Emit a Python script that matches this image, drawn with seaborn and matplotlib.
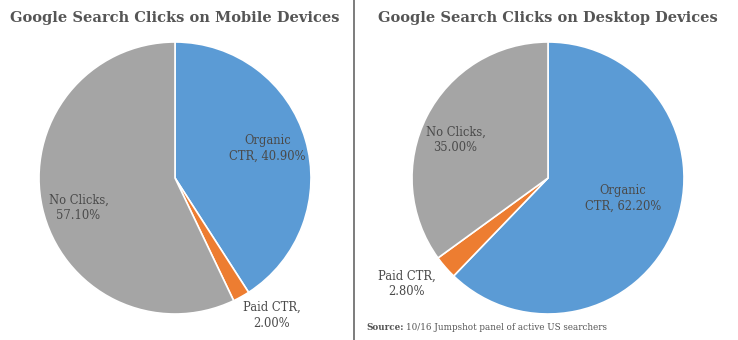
import numpy as np
import pandas as pd
import seaborn as sns
import matplotlib
matplotlib.use('Agg')
import matplotlib.pyplot as plt

# Data
categories = ['Organic CTR', 'Paid CTR', 'No Clicks']
mobileVals = [40.9, 2.0, 57.1]
desktopVals = [62.2, 2.8, 35.0]
titles = ['Google Search Clicks on Mobile Devices', 'Google Search Clicks on Desktop Devices']
sourceText = 'Source:'
sourceRest = '10/16 Jumpshot panel of active US searchers'

sns.set_style('white')
plt.rcParams['font.family'] = ['DejaVu Serif']
colors = ['#5B9BD5', '#ED7D31', '#A5A5A5']
textColor = '#4a4a4a'

W, H = 738, 340
fig = plt.figure(figsize=(W / 100, H / 100), dpi=100)

def pieAxes(cx, cy, r):
    return fig.add_axes([(cx - r) / W, (H - cy - r) / H, 2 * r / W, 2 * r / H])

# label positions (in pie radius units) for each slice
mobileLabelPos = [(0.68, 0.22), (0.71, -1.01), (-0.71, -0.22)]
desktopLabelPos = [(0.55, -0.15), (-1.04, -0.78), (-0.68, 0.28)]

panels = [(175, 178, mobileVals, mobileLabelPos), (548, 178, desktopVals, desktopLabelPos)]

for (cx, cy, vals, labelPos), title in zip(panels, titles):
    ax = pieAxes(cx, cy, 136)
    ax.pie(vals, colors=colors, startangle=90, counterclock=False,
           wedgeprops={'edgecolor': 'white', 'linewidth': 1.2})
    ax.set_xlim(-1, 1)
    ax.set_ylim(-1, 1)
    ax.set_aspect('equal')
    ax.axis('off')
    for cat, v, (x, y) in zip(categories, vals, labelPos):
        if cat == 'Organic CTR':
            lbl = 'Organic\nCTR, %.2f%%' % v
        else:
            lbl = '%s,\n%.2f%%' % (cat, v)
        ax.text(x, y, lbl, ha='center', va='center', fontsize=8.3,
                color=textColor, linespacing=1.25, clip_on=False)
    fig.text(cx / W, 1 - 18 / H, title, ha='center', va='center',
             fontsize=10.5, fontweight='bold', color='#555555')

# divider between the two panels
fig.add_artist(plt.Line2D([354 / W, 354 / W], [0, 1], color='#666666', linewidth=1.2))

src = fig.text(366 / W, 1 - 328 / H, sourceText, fontsize=6.3, fontweight='bold',
               color='#555555', va='center')
fig.canvas.draw()
bb = src.get_window_extent()
fig.text((bb.x1 + 3) / W, 1 - 328 / H, sourceRest, fontsize=6.3, color='#555555', va='center')

plt.savefig('out.png', dpi=100)
